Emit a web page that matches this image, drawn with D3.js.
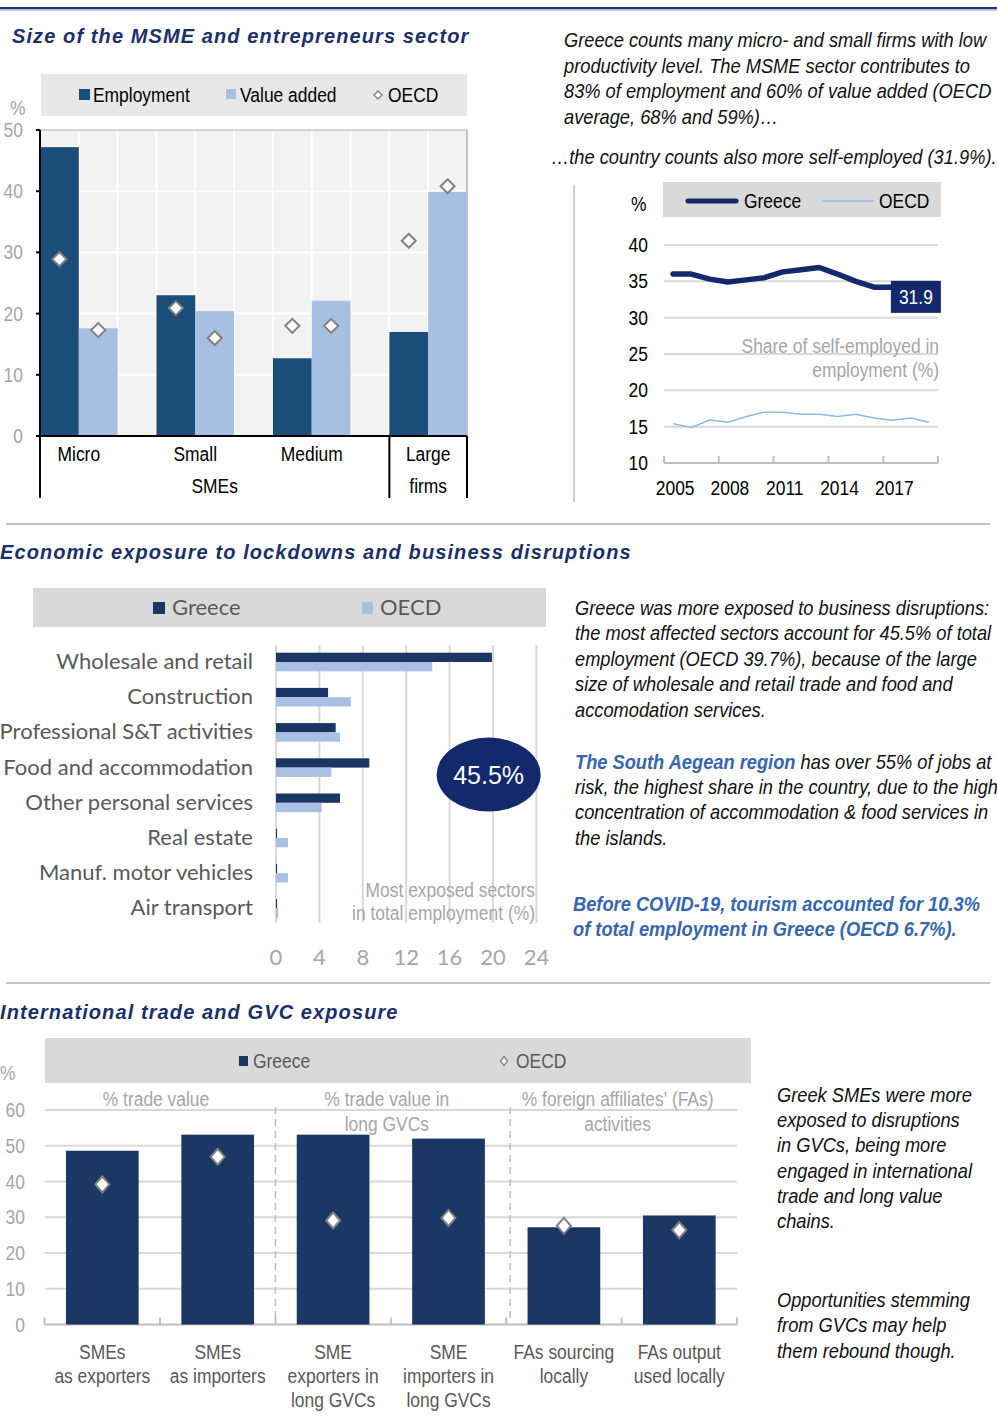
<!DOCTYPE html>
<html>
<head>
<meta charset="utf-8">
<script src="https://cdn.jsdelivr.net/npm/d3@7"></script>
<style>
  body { margin: 0; background: #fff; }
  svg { display: block; }
  .narrow { font-family: "Liberation Sans", Arial, sans-serif; font-size: 21px; }
  .calibri { font-family: Lato, "Open Sans", sans-serif; font-size: 22px; }
  .title { font-family: "Liberation Sans", Arial, sans-serif; font-weight: bold; font-style: italic; fill: #1b2f6b; font-size: 20px; letter-spacing: 1.1px; }
  .para { font-family: "Liberation Sans", Arial, sans-serif; font-style: italic; font-size: 21px; fill: #111; }
  .blue { fill: #3766b0; font-weight: bold; }
  .gray { fill: #a6a6a6; }
  .dark { fill: #595959; }
</style>
</head>
<body>
<script>
var width = 997, height = 1416;

// ---- data: firm size (share %, Greece vs OECD) ----
var firmSizes = ["Micro", "Small", "Medium", "Large"];
var employmentShare = [47.2, 23.0, 12.7, 17.0];
var valueAddedShare = [17.6, 20.4, 22.1, 39.9];
var oecdEmploymentShare = [28.9, 20.9, 18.0, 31.9];
var oecdValueAddedShare = [17.3, 16.0, 18.0, 40.8];
var sizeTicks = [0, 10, 20, 30, 40, 50];

// ---- data: self-employment share ----
var selfYears = [2005, 2006, 2007, 2008, 2009, 2010, 2011, 2012, 2013, 2014, 2015, 2016, 2017, 2018, 2019];
var selfGreece = [36.0, 36.0, 35.3, 34.9, 35.2, 35.5, 36.3, 36.6, 36.9, 36.0, 35.0, 34.2, 34.2, 33.5, 31.9];
var selfOecd = [15.4, 14.9, 15.9, 15.6, 16.4, 17.0, 17.0, 16.7, 16.7, 16.4, 16.7, 16.2, 15.9, 16.2, 15.6];
var selfTicks = [10, 15, 20, 25, 30, 35, 40];
var selfYearLabels = [2005, 2008, 2011, 2014, 2017];

// ---- data: most exposed sectors (% of total employment) ----
var sectors = ["Wholesale and retail", "Construction", "Professional S&T activities", "Food and accommodation",
  "Other personal services", "Real estate", "Manuf. motor vehicles", "Air transport"];
var sectorGreece = [19.9, 4.8, 5.5, 8.6, 5.9, 0.1, 0.1, 0.1];
var sectorOecd = [14.4, 6.9, 5.9, 5.1, 4.2, 1.1, 1.1, 0.2];
var sectorTicks = [0, 4, 8, 12, 16, 20, 24];

// ---- data: trade and GVC exposure ----
var gvcLabels = [["SMEs", "as exporters"], ["SMEs", "as importers"], ["SME", "exporters in", "long GVCs"],
  ["SME", "importers in", "long GVCs"], ["FAs sourcing", "locally"], ["FAs output", "used locally"]];
var gvcGreece = [48.6, 53.1, 53.1, 52.0, 27.2, 30.5];
var gvcOecd = [39.2, 46.9, 29.1, 29.8, 27.6, 26.4];
var gvcGroups = [["% trade value"], ["% trade value in", "long GVCs"], ["% foreign affiliates' (FAs)", "activities"]];
var gvcTicks = [0, 10, 20, 30, 40, 50, 60];

var navy = "#13296b";
var K = 0.83;   // horizontal squeeze to mimic a narrow font
var KP = 0.87;  // same for the italic notes

var svg = d3.select("body").append("svg")
    .attr("width", width)
    .attr("height", height);

svg.append("rect").attr("width", width).attr("height", height).attr("fill", "#fff");

function diamond(cx, cy, w, h) {
  return "M" + cx + "," + (cy - h / 2) + "L" + (cx + w / 2) + "," + cy +
    "L" + cx + "," + (cy + h / 2) + "L" + (cx - w / 2) + "," + cy + "Z";
}

function sq(x, y, k) {
  return "translate(" + x + "," + y + ") scale(" + k + ",1)";
}

// one text element, several lines, squeezed horizontally by k
function addLines(parent, lines, x, y0, lh, cls, anchor, k) {
  var t = parent.append("text").attr("class", cls).attr("text-anchor", anchor || "start")
      .attr("transform", sq(x, y0, k || 1));
  lines.forEach(function(line, i) {
    t.append("tspan").attr("x", 0).attr("y", i * lh).text(line);
  });
  return t;
}

function ntext(parent, x, y, str, cls, anchor) {
  return parent.append("text").attr("class", "narrow " + (cls || ""))
      .attr("text-anchor", anchor || "start")
      .attr("transform", sq(x, y, K)).text(str);
}

// top rule and section separators
svg.append("line").attr("x1", 0).attr("x2", width).attr("y1", 8).attr("y2", 8)
    .attr("stroke", "#1f3864").attr("stroke-width", 2);
svg.append("line").attr("x1", 0).attr("x2", width).attr("y1", 10).attr("y2", 10)
    .attr("stroke", "#9db3d8").attr("stroke-width", 1.5);
[524, 983].forEach(function(y) {
  svg.append("line").attr("x1", 6).attr("x2", 990).attr("y1", y).attr("y2", y)
      .attr("stroke", "#c4c4c4").attr("stroke-width", 2);
});

// section titles
svg.append("text").attr("class", "title").attr("x", 12).attr("y", 43).text("Size of the MSME and entrepreneurs sector");
svg.append("text").attr("class", "title").attr("x", 0).attr("y", 559).text("Economic exposure to lockdowns and business disruptions");
svg.append("text").attr("class", "title").attr("x", 0).attr("y", 1019).text("International trade and GVC exposure");

// ================= Chart 1: firm size =================
var c1 = {left: 40, right: 467, top: 130, bottom: 436, low: 498};
var x1 = d3.scaleBand().domain(firmSizes).range([c1.left, c1.right]).paddingInner(1 / 3).paddingOuter(0);
var x1Inner = d3.scaleBand().domain(["emp", "va"]).range([0, x1.bandwidth()]);
var y1 = d3.scaleLinear().domain([0, 50]).range([c1.bottom, c1.top]);
var bar1 = x1Inner.bandwidth();

svg.append("rect").attr("x", 41).attr("y", 74).attr("width", 426).attr("height", 42).attr("fill", "#e8e8e8");
var leg1 = svg.append("g");
leg1.append("rect").attr("x", 79).attr("y", 89).attr("width", 11).attr("height", 11).attr("fill", "#1b4f79");
ntext(leg1, 93, 102, "Employment");
leg1.append("rect").attr("x", 226).attr("y", 89).attr("width", 10).attr("height", 10).attr("fill", "#a7bfe0");
ntext(leg1, 240, 102, "Value added");
leg1.append("path").attr("d", diamond(378, 95, 8, 8)).attr("fill", "#fff").attr("stroke", "#7f7f7f").attr("stroke-width", 1.3);
ntext(leg1, 388, 102, "OECD");

svg.append("rect").attr("x", c1.left).attr("y", c1.top).attr("width", c1.right - c1.left)
    .attr("height", c1.bottom - c1.top).attr("fill", "#f2f2f2");

var grid1 = svg.append("g").attr("stroke", "#fff").attr("stroke-width", 2);
grid1.selectAll(".h").data(sizeTicks.slice(1, -1)).enter().append("line")
    .attr("x1", c1.left).attr("x2", c1.right).attr("y1", y1).attr("y2", y1);
var vLines = [];
firmSizes.forEach(function(c) {
  vLines.push(x1(c) + bar1, x1(c) + 2 * bar1);
  if (c !== "Large") vLines.push(x1(c) + 3 * bar1);
});
grid1.selectAll(".v").data(vLines).enter().append("line")
    .attr("x1", function(d) { return d; }).attr("x2", function(d) { return d; })
    .attr("y1", c1.top).attr("y2", c1.bottom);
svg.append("line").attr("x1", c1.left).attr("x2", c1.right).attr("y1", c1.top).attr("y2", c1.top)
    .attr("stroke", "#c8c8c8").attr("stroke-width", 1.5);
svg.append("line").attr("x1", c1.right).attr("x2", c1.right).attr("y1", c1.top).attr("y2", c1.bottom)
    .attr("stroke", "#b0b0b0").attr("stroke-width", 1.5);

var g1 = svg.append("g");
g1.selectAll(".emp").data(firmSizes).enter().append("rect")
    .attr("x", function(d) { return x1(d) + x1Inner("emp"); })
    .attr("y", function(d, i) { return y1(employmentShare[i]); })
    .attr("width", bar1)
    .attr("height", function(d, i) { return y1(0) - y1(employmentShare[i]); })
    .attr("fill", "#1b4f79");
g1.selectAll(".va").data(firmSizes).enter().append("rect")
    .attr("x", function(d) { return x1(d) + x1Inner("va"); })
    .attr("y", function(d, i) { return y1(valueAddedShare[i]); })
    .attr("width", bar1)
    .attr("height", function(d, i) { return y1(0) - y1(valueAddedShare[i]); })
    .attr("fill", "#a7bfe0");
g1.selectAll(".oe").data(firmSizes).enter().append("path")
    .attr("d", function(d, i) { return diamond(x1(d) + x1Inner("emp") + bar1 / 2, y1(oecdEmploymentShare[i]), 14, 14); })
    .attr("fill", "#fff").attr("stroke", "#808080").attr("stroke-width", 2);
g1.selectAll(".ov").data(firmSizes).enter().append("path")
    .attr("d", function(d, i) { return diamond(x1(d) + x1Inner("va") + bar1 / 2, y1(oecdValueAddedShare[i]), 14, 14); })
    .attr("fill", "#fff").attr("stroke", "#808080").attr("stroke-width", 2);

// axis and category box
var ax1 = svg.append("g").attr("stroke", "#000").attr("stroke-width", 2);
ax1.append("line").attr("x1", c1.left).attr("x2", c1.left).attr("y1", c1.top).attr("y2", c1.low);
ax1.append("line").attr("x1", c1.left).attr("x2", c1.right).attr("y1", c1.bottom).attr("y2", c1.bottom);
ax1.append("line").attr("x1", x1("Large")).attr("x2", x1("Large")).attr("y1", c1.bottom).attr("y2", c1.low);
ax1.append("line").attr("x1", c1.right).attr("x2", c1.right).attr("y1", c1.bottom).attr("y2", c1.low);
ax1.selectAll(".tk").data(sizeTicks).enter().append("line")
    .attr("x1", c1.left - 4).attr("x2", c1.left).attr("y1", y1).attr("y2", y1);

var lab1 = svg.append("g");
lab1.selectAll(".yl").data(sizeTicks).enter().append("text")
    .attr("class", "narrow gray").attr("text-anchor", "end")
    .attr("transform", function(d) { return sq(23, y1(d) + 7, K); })
    .text(function(d) { return d; });
ntext(lab1, 10, 115, "%", "gray");
lab1.selectAll(".xl").data(firmSizes.slice(0, 3)).enter().append("text")
    .attr("class", "narrow").attr("text-anchor", "middle")
    .attr("transform", function(d) { return sq(x1(d) + x1.bandwidth() / 2, 461, K); })
    .text(function(d) { return d; });
ntext(lab1, (c1.left + x1("Large")) / 2, 493, "SMEs", "", "middle");
addLines(lab1, ["Large", "firms"], x1("Large") + x1.bandwidth() / 2, 461, 32, "narrow", "middle", K);

// right-hand text, section 1
addLines(svg, ["Greece counts many micro- and small firms with low",
  "productivity level. The MSME sector contributes to",
  "83% of employment and 60% of value added  (OECD",
  "average, 68% and 59%)\u2026"], 564, 47, 25.7, "para", "start", KP);
addLines(svg, ["\u2026the country counts also more self-employed (31.9%)."], 551, 164, 0, "para", "start", KP);

// ================= Chart 2: self-employment =================
var x2 = d3.scaleBand().domain(selfYears).range([664, 938]);
var y2 = d3.scaleLinear().domain([10, 40]).range([463, 245]);
var cx2 = function(d) { return x2(d) + x2.bandwidth() / 2; };

svg.append("line").attr("x1", 574).attr("x2", 574).attr("y1", 185).attr("y2", 502)
    .attr("stroke", "#d0d0d0").attr("stroke-width", 2);
svg.append("rect").attr("x", 663).attr("y", 182).attr("width", 278).attr("height", 35).attr("fill", "#d9d9d9");
var leg2 = svg.append("g");
leg2.append("line").attr("x1", 688).attr("x2", 736).attr("y1", 201).attr("y2", 201)
    .attr("stroke", navy).attr("stroke-width", 5).attr("stroke-linecap", "round");
ntext(leg2, 744, 208, "Greece");
leg2.append("line").attr("x1", 822).attr("x2", 874).attr("y1", 201).attr("y2", 201)
    .attr("stroke", "#8fbbe3").attr("stroke-width", 1.5);
ntext(leg2, 879, 208, "OECD");
ntext(leg2, 631, 211, "%");

svg.append("g").selectAll("line").data(selfTicks.slice(1)).enter().append("line")
    .attr("x1", 664).attr("x2", 938).attr("y1", y2).attr("y2", y2)
    .attr("stroke", "#d9d9d9").attr("stroke-width", 2);
svg.append("line").attr("x1", 664).attr("x2", 938).attr("y1", y2(10)).attr("y2", y2(10))
    .attr("stroke", "#bfbfbf").attr("stroke-width", 2);
var tickYears = selfYears.filter(function(d, i) { return i % 3 === 0; });
svg.append("g").selectAll("line").data(tickYears).enter().append("line")
    .attr("x1", function(d) { return x2(d); }).attr("x2", function(d) { return x2(d); })
    .attr("y1", y2(10) - 7).attr("y2", y2(10)).attr("stroke", "#bfbfbf").attr("stroke-width", 2);
svg.append("line").attr("x1", 938).attr("x2", 938).attr("y1", y2(10) - 7).attr("y2", y2(10))
    .attr("stroke", "#bfbfbf").attr("stroke-width", 2);

var lab2 = svg.append("g");
lab2.selectAll(".yl").data(selfTicks).enter().append("text")
    .attr("class", "narrow").attr("text-anchor", "end")
    .attr("transform", function(d) { return sq(648, y2(d) + 7, K); })
    .text(function(d) { return d; });
lab2.selectAll(".xl").data(selfYearLabels).enter().append("text")
    .attr("class", "narrow").attr("text-anchor", "middle")
    .attr("transform", function(d) { return sq(cx2(d) + 2, 495, K); })
    .text(function(d) { return d; });

var line2 = d3.line().x(function(d) { return cx2(d[0]); }).y(function(d) { return y2(d[1]); });
svg.append("path").datum(selfYears.map(function(y, i) { return [y, selfOecd[i]]; }))
    .attr("d", line2).attr("fill", "none").attr("stroke", "#8fbbe3").attr("stroke-width", 1.5);
svg.append("path").datum(selfYears.map(function(y, i) { return [y, selfGreece[i]]; }))
    .attr("d", line2).attr("fill", "none").attr("stroke", navy).attr("stroke-width", 5.5)
    .attr("stroke-linejoin", "round").attr("stroke-linecap", "round");

var lastYear = selfYears[selfYears.length - 1];
var lastVal = selfGreece[selfGreece.length - 1];
svg.append("rect").attr("x", cx2(lastYear) - 38).attr("y", y2(lastVal) - 23)
    .attr("width", 50).attr("height", 32).attr("fill", navy);
ntext(svg, cx2(lastYear) - 13, y2(lastVal), lastVal.toFixed(1), "", "middle").attr("fill", "#fff");

addLines(svg, ["Share of self-employed in", "employment (%)"], 939, 353, 24, "narrow gray", "end", K);

// ================= Chart 3: exposed sectors =================
var y3 = d3.scaleBand().domain(sectors).range([644.4, 926]);
var y3Inner = d3.scaleBand().domain(["gr", "oecd"]).range([y3.bandwidth() / 2 - 9.3, y3.bandwidth() / 2 + 9.3]);
var x3 = d3.scaleLinear().domain([0, 24]).range([276, 536.4]);

svg.append("rect").attr("x", 33).attr("y", 588).attr("width", 513).attr("height", 39).attr("fill", "#d9d9d9");
var leg3 = svg.append("g").attr("class", "calibri dark");
leg3.append("rect").attr("x", 153).attr("y", 602).attr("width", 12).attr("height", 12).attr("fill", "#1b3664");
leg3.append("text").attr("x", 172).attr("y", 615).text("Greece");
leg3.append("rect").attr("x", 362).attr("y", 602).attr("width", 11).attr("height", 12).attr("fill", "#a9c0e2");
leg3.append("text").attr("x", 380).attr("y", 615).text("OECD");

svg.append("g").selectAll("line").data(sectorTicks).enter().append("line")
    .attr("x1", x3).attr("x2", x3).attr("y1", 645).attr("y2", 923)
    .attr("stroke", "#d9d9d9").attr("stroke-width", 2);

var g3 = svg.append("g");
g3.selectAll(".gr").data(sectors).enter().append("rect")
    .attr("x", x3(0)).attr("y", function(d) { return y3(d) + y3Inner("gr"); })
    .attr("width", function(d, i) { return x3(sectorGreece[i]) - x3(0); })
    .attr("height", y3Inner.bandwidth()).attr("fill", "#1b3664");
g3.selectAll(".oe").data(sectors).enter().append("rect")
    .attr("x", x3(0)).attr("y", function(d) { return y3(d) + y3Inner("oecd"); })
    .attr("width", function(d, i) { return x3(sectorOecd[i]) - x3(0); })
    .attr("height", y3Inner.bandwidth()).attr("fill", "#a9c0e2");

var lab3 = svg.append("g").attr("class", "calibri");
lab3.selectAll(".yl").data(sectors).enter().append("text")
    .attr("class", "dark").attr("x", 253).attr("y", function(d) { return y3(d) + y3.bandwidth() / 2 + 7; })
    .attr("text-anchor", "end").text(function(d) { return d; });
lab3.selectAll(".xl").data(sectorTicks).enter().append("text")
    .attr("class", "gray").attr("x", x3).attr("y", 965)
    .attr("text-anchor", "middle").text(function(d) { return d; });

var ellCx = x3(19.6), ellCy = y3("Food and accommodation") + y3.bandwidth() / 2 + 7;
svg.append("ellipse").attr("cx", ellCx).attr("cy", ellCy).attr("rx", 52).attr("ry", 37).attr("fill", navy);
svg.append("text").attr("x", ellCx).attr("y", ellCy + 9).attr("text-anchor", "middle")
    .attr("fill", "#fff").style("font-family", "'Liberation Sans', Arial, sans-serif").style("font-size", "25px")
    .text("45.5%");
addLines(svg, ["Most exposed sectors", "in total employment (%)"], 535, 897, 23, "narrow gray", "end", K);

// right-hand text, section 2
addLines(svg, ["Greece was more exposed to business disruptions:",
  "the most affected sectors account for 45.5% of total",
  "employment (OECD 39.7%), because of the large",
  "size of wholesale and retail trade and food and",
  "accomodation services."], 575, 615, 25.4, "para", "start", KP);
var p2 = svg.append("text").attr("class", "para").attr("transform", sq(575, 769, KP));
p2.append("tspan").attr("x", 0).attr("y", 0).attr("class", "blue").text("The South Aegean region");
p2.append("tspan").text(" has over 55%  of jobs at");
addLines(svg, ["risk, the highest share in the country, due to the high",
  "concentration of accommodation & food services in",
  "the islands."], 575, 794, 25.4, "para", "start", KP);
addLines(svg, ["Before COVID-19, tourism accounted for 10.3%",
  "of total employment in Greece (OECD 6.7%)."], 573, 911, 25.4, "para blue", "start", KP);

// ================= Chart 4: trade and GVCs =================
var gvcKeys = gvcLabels.map(function(d) { return d.join(" "); });
var x4 = d3.scaleBand().domain(gvcKeys).range([44.6, 737]).paddingInner(0.37).paddingOuter(0.185);
var y4 = d3.scaleLinear().domain([0, 60]).range([1324.5, 1110]);

svg.append("rect").attr("x", 45).attr("y", 1038).attr("width", 706).attr("height", 45).attr("fill", "#d9d9d9");
var leg4 = svg.append("g");
leg4.append("rect").attr("x", 239).attr("y", 1056).attr("width", 9).attr("height", 10).attr("fill", "#1b3763");
ntext(leg4, 253, 1068, "Greece", "dark");
leg4.append("path").attr("d", diamond(504, 1061, 7, 9)).attr("fill", "#fff").attr("stroke", "#7f7f7f").attr("stroke-width", 1.3);
ntext(leg4, 516, 1068, "OECD", "dark");

svg.append("g").selectAll("line").data(gvcTicks.slice(1)).enter().append("line")
    .attr("x1", 44.6).attr("x2", 737).attr("y1", y4).attr("y2", y4)
    .attr("stroke", "#d9d9d9").attr("stroke-width", 2);
svg.append("line").attr("x1", 44.6).attr("x2", 737).attr("y1", y4(0)).attr("y2", y4(0))
    .attr("stroke", "#bfbfbf").attr("stroke-width", 2);
var step4 = x4.step();
var bounds4 = gvcKeys.map(function(k) { return x4(k) - (step4 - x4.bandwidth()) / 2; }).concat([737]);
svg.append("g").selectAll("line").data(bounds4).enter().append("line")
    .attr("x1", function(d) { return d; }).attr("x2", function(d) { return d; })
    .attr("y1", y4(0) - 7).attr("y2", y4(0)).attr("stroke", "#bfbfbf").attr("stroke-width", 2);
svg.append("g").selectAll("line").data([bounds4[2], bounds4[4] + 4]).enter().append("line")
    .attr("x1", function(d) { return d; }).attr("x2", function(d) { return d; })
    .attr("y1", 1107).attr("y2", y4(0) - 2)
    .attr("stroke", "#bfbfbf").attr("stroke-width", 1.5).attr("stroke-dasharray", "7,5");

var g4 = svg.append("g");
g4.selectAll("rect").data(gvcKeys).enter().append("rect")
    .attr("x", function(d) { return x4(d); })
    .attr("y", function(d, i) { return y4(gvcGreece[i]); })
    .attr("width", x4.bandwidth())
    .attr("height", function(d, i) { return y4(0) - y4(gvcGreece[i]); })
    .attr("fill", "#1b3763");
g4.selectAll("path").data(gvcKeys).enter().append("path")
    .attr("d", function(d, i) { return diamond(x4(d) + x4.bandwidth() / 2, y4(gvcOecd[i]), 14, 16); })
    .attr("fill", "#fff").attr("stroke", "#808080").attr("stroke-width", 2);

var lab4 = svg.append("g");
lab4.selectAll(".yl").data(gvcTicks).enter().append("text")
    .attr("class", "narrow gray").attr("text-anchor", "end")
    .attr("transform", function(d) { return sq(25, y4(d) + 7, K); })
    .text(function(d) { return d; });
ntext(lab4, 0, 1080, "%", "gray");
gvcLabels.forEach(function(lines, i) {
  addLines(lab4, lines, x4(gvcKeys[i]) + x4.bandwidth() / 2, 1359, 24, "narrow dark", "middle", K);
});
gvcGroups.forEach(function(lines, i) {
  var a = x4(gvcKeys[2 * i]), b = x4(gvcKeys[2 * i + 1]) + x4.bandwidth();
  addLines(lab4, lines, (a + b) / 2 - 4, 1106, 25, "narrow gray", "middle", K);
});

// right-hand text, section 3
addLines(svg, ["Greek SMEs were more", "exposed to disruptions", "in GVCs, being more",
  "engaged in international", "trade and long value", "chains."], 777, 1102, 25.2, "para", "start", KP);
addLines(svg, ["Opportunities stemming", "from GVCs may help", "them rebound though."], 777, 1307, 25.4, "para", "start", KP);
</script>
</body>
</html>
